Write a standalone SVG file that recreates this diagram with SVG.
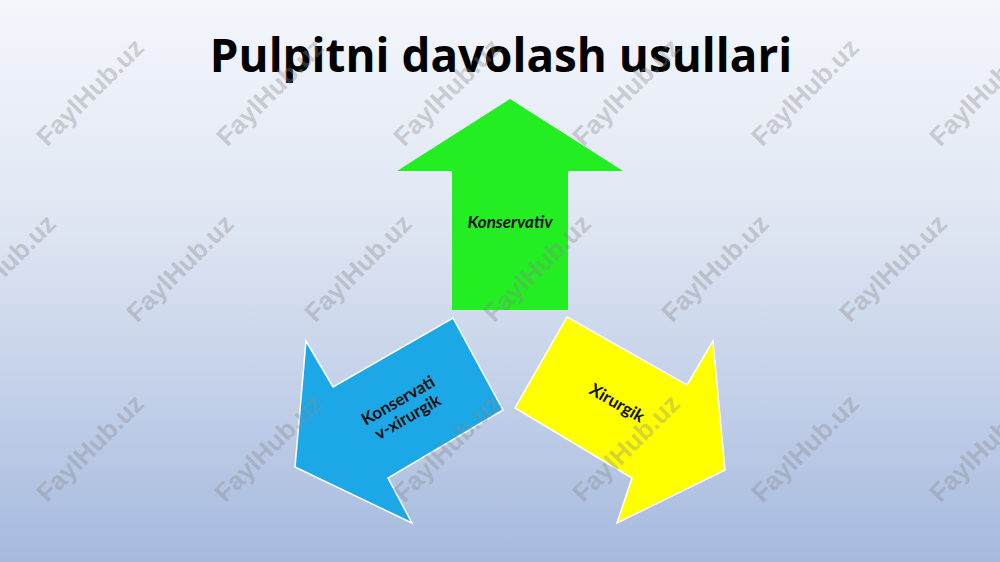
<svg xmlns="http://www.w3.org/2000/svg" width="1000" height="562" viewBox="0 0 1000 562">
<defs>
<linearGradient id="bg" x1="0" y1="0" x2="0" y2="1">
<stop offset="0" stop-color="#f4f6fb"/>
<stop offset="0.4" stop-color="#dfe6f3"/>
<stop offset="1" stop-color="#a6bade"/>
</linearGradient>
<style>
.wm{font-family:"Liberation Sans",Arial,sans-serif;font-weight:bold;font-size:26px;fill:#888888;fill-opacity:0.36;text-anchor:middle;dominant-baseline:central}
.lbl{font-family:Lato,"Open Sans",sans-serif;font-weight:bold;font-size:17px;fill:#111;text-anchor:middle}
.arrow{stroke:#ffffff;stroke-width:1.5;stroke-linejoin:miter}
</style>
</defs>
<rect width="1000" height="562" fill="url(#bg)"/>
<text x="501" y="72" font-family="'Open Sans','Noto Sans',sans-serif" font-weight="bold" font-size="45.8" fill="#000" text-anchor="middle">Pulpitni davolash usullari</text>
<g id="node-konservativ">
<polygon points="510,99 623,171 568,171 568,310 452,310 452,171 397,171" fill="#22ee22"/>
<text class="lbl" x="510" y="228" font-style="italic">Konservativ</text>
</g>
<g id="node-konservativ-xirurgik">
<polygon class="arrow" points="453,318 503,410 388,478 412,523 295,467 306,341 333,387" fill="#1ca8e6"/>
<text class="lbl" transform="translate(403,409) rotate(-30)"><tspan x="0" y="-4">Konservati</tspan><tspan x="0" y="15">v-xirurgik</tspan></text>
</g>
<g id="node-xirurgik">
<polygon class="arrow" points="567,317 687,385 713,341 725,470 617,523 632,478 515,408" fill="#ffff00"/>
<text class="lbl" transform="translate(614,408) rotate(30)" x="0" y="0">Xirurgik</text>
</g>
<g id="connectors"></g>
<g id="watermarks">
<text class="wm" transform="translate(90,92) rotate(-45)">FaylHub.uz</text>
<text class="wm" transform="translate(270,92) rotate(-45)">FaylHub.uz</text>
<text class="wm" transform="translate(447,92) rotate(-45)">FaylHub.uz</text>
<text class="wm" transform="translate(626,92) rotate(-45)">FaylHub.uz</text>
<text class="wm" transform="translate(805,92) rotate(-45)">FaylHub.uz</text>
<text class="wm" transform="translate(983,92) rotate(-45)">FaylHub.uz</text>
<text class="wm" transform="translate(2,268) rotate(-45)">FaylHub.uz</text>
<text class="wm" transform="translate(180,268) rotate(-45)">FaylHub.uz</text>
<text class="wm" transform="translate(358,268) rotate(-45)">FaylHub.uz</text>
<text class="wm" transform="translate(537,268) rotate(-45)">FaylHub.uz</text>
<text class="wm" transform="translate(715,268) rotate(-45)">FaylHub.uz</text>
<text class="wm" transform="translate(893,268) rotate(-45)">FaylHub.uz</text>
<text class="wm" transform="translate(90,448) rotate(-45)">FaylHub.uz</text>
<text class="wm" transform="translate(268,448) rotate(-45)">FaylHub.uz</text>
<text class="wm" transform="translate(447,448) rotate(-45)">FaylHub.uz</text>
<text class="wm" transform="translate(626,448) rotate(-45)">FaylHub.uz</text>
<text class="wm" transform="translate(805,448) rotate(-45)">FaylHub.uz</text>
<text class="wm" transform="translate(983,448) rotate(-45)">FaylHub.uz</text>
</g>
</svg>
